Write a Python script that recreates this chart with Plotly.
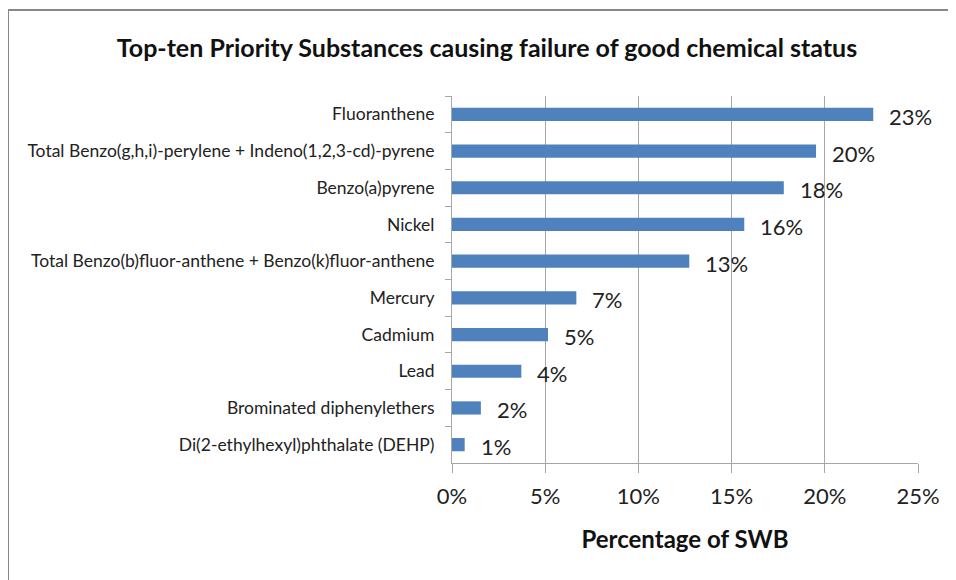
import plotly.graph_objects as go

categories = [
    "Fluoranthene",
    "Total Benzo(g,h,i)-perylene + Indeno(1,2,3-cd)-pyrene",
    "Benzo(a)pyrene",
    "Nickel",
    "Total Benzo(b)fluor-anthene + Benzo(k)fluor-anthene",
    "Mercury",
    "Cadmium",
    "Lead",
    "Brominated diphenylethers",
    "Di(2-ethylhexyl)phthalate (DEHP)",
]
values = [0.226, 0.1953, 0.178, 0.1568, 0.1273, 0.0667, 0.0515, 0.0372, 0.0155, 0.0068]
x_ticks = [0, 0.05, 0.10, 0.15, 0.20, 0.25]

FONT = "Lato, 'Open Sans', sans-serif"
GRID = "#A6A6A6"

# The page body adds an 8px offset; the figure is sized to fill the rest of the window.
W, H = 948, 572
L, T, R, B = 444, 88, 38, 117
PW = W - L - R
PH = H - T - B

fig = go.Figure()
fig.add_trace(go.Bar(
    x=values, y=categories, orientation="h",
    marker=dict(color="#4F81BD", line=dict(width=0)),
    hoverinfo="x+y",
))

for c, v in zip(categories, values):
    fig.add_annotation(
        x=v, y=c, xref="x", yref="y", text=f"{v:.0%}", showarrow=False,
        xanchor="left", yanchor="middle", xshift=14, yshift=-2,
        font=dict(family=FONT, size=22, color="#222222"),
    )

fig.update_layout(
    width=W, height=H,
    margin=dict(l=L, r=R, t=T, b=B),
    paper_bgcolor="white", plot_bgcolor="white",
    bargap=0.64,
    showlegend=False,
    title=dict(
        text="<b>Top-ten Priority Substances causing failure of good chemical status</b>",
        x=479 / W, xref="container", xanchor="center",
        y=1 - 40 / H, yref="container", yanchor="middle",
        font=dict(family=FONT, size=25, color="#111111"),
    ),
    xaxis=dict(
        range=[0, 0.25], tickvals=x_ticks, tickformat=".0%",
        showgrid=True, gridcolor=GRID, gridwidth=1,
        showline=True, linecolor=GRID, linewidth=1,
        ticks="outside", ticklen=9, tickcolor=GRID,
        ticklabelstandoff=5,
        zeroline=False,
        tickfont=dict(family=FONT, size=22, color="#222222"),
        title=dict(text="<b>Percentage of SWB</b>", standoff=22,
                   font=dict(family=FONT, size=24, color="#111111")),
    ),
    yaxis=dict(
        autorange="reversed", type="category",
        showline=True, linecolor=GRID, linewidth=1,
        ticks="outside", ticklen=6, tickcolor=GRID, tickson="boundaries",
        showgrid=False,
        ticklabelstandoff=13,
        tickfont=dict(family=FONT, size=17.5, color="#222222"),
    ),
    shapes=[dict(
        type="rect", xref="paper", yref="paper",
        x0=(0 - L) / PW, x1=1.5, y0=-1.0, y1=(H - B - 2) / PH,
        line=dict(color="#888888", width=2), fillcolor="rgba(0,0,0,0)", layer="below",
    )],
)

fig.write_html("out.html")
